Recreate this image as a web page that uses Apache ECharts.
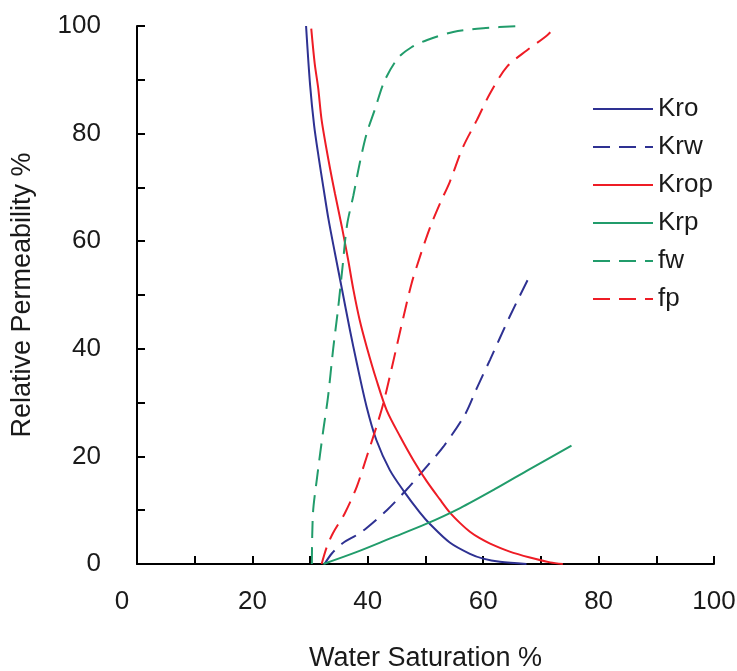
<!DOCTYPE html>
<html>
<head>
<meta charset="utf-8">
<script src="https://cdn.jsdelivr.net/npm/echarts@6/dist/echarts.min.js"></script>
<style>
  html, body { margin: 0; padding: 0; background: #fff; }
  #main { width: 737px; height: 671px; }
</style>
</head>
<body>
<div id="main"></div>
<script>
// curves (water saturation %, value %)
const kroX = [29.3, 30.0, 30.7, 31.5, 32.3, 33.2, 34.3, 35.5, 36.9, 38.1, 39.8, 41.5, 43.8, 46.2, 49.0, 50.8, 54.2, 57.7, 60.0, 62.9, 67.5];
const kroY = [100, 89, 81.5, 75.5, 70, 64, 57.8, 51.2, 43.5, 37.3, 29.2, 23, 17.5, 13.6, 9.6, 7.4, 4.0, 1.9, 1.0, 0.4, 0];

const krwX = [32.5, 33.8, 35.7, 38.1, 39.8, 43.3, 46.7, 50.2, 53.1, 56.8, 58.9, 61.2, 64.6, 67.8];
const krwY = [0, 2, 3.9, 5.4, 6.7, 10, 13.8, 18.1, 21.8, 27.7, 32.7, 38, 46, 53];

const kropX = [30.2, 30.8, 31.4, 32.0, 33.2, 34.3, 35.5, 36.6, 37.5, 38.6, 39.8, 41.5, 43.3, 45.6, 47.9, 50.2, 52.5, 54.2, 56.0, 57.7, 59.4, 61.2, 64.6, 68.1, 71.6, 73.8];
const kropY = [99.5, 93, 88.5, 82.5, 75, 68.9, 62.7, 56.5, 51, 45.3, 40.4, 34.2, 28.5, 23.7, 19.3, 15.4, 12.0, 9.6, 7.6, 6.0, 4.8, 3.8, 2.3, 1.2, 0.3, 0];

const krpX = [32.3, 38.0, 44.0, 50.0, 56.0, 62.0, 68.0, 75.3];
const krpY = [0, 2.2, 4.8, 7.4, 10.4, 13.9, 17.6, 22];

const fwX = [30.3, 30.5, 31.2, 32.3, 33.1, 34.0, 34.8, 35.6, 36.4, 37.5, 38.6, 39.8, 41.2, 42.9, 45.2, 47.5, 50.3, 54.8, 60.0, 66.4];
const fwY = [0, 9.5, 16, 25, 31, 40, 47, 55, 63, 68.5, 74.5, 80, 84.4, 89.8, 94, 96, 97.4, 98.9, 99.6, 100];

const fpX = [32.0, 32.9, 34.0, 36.0, 38.1, 39.8, 41.5, 42.7, 43.8, 45.0, 46.2, 47.6, 49.0, 50.8, 52.5, 54.2, 56.5, 58.9, 61.2, 64.1, 67.6, 71.1, 72.6];
const fpY = [0, 3.2, 5.8, 9.4, 14.4, 19.9, 25.5, 29.9, 34.8, 40.4, 46, 52.2, 57, 62.6, 67, 71, 77.5, 82.5, 87.5, 92.4, 95.5, 98.3, 100];

const seriesNames = ["Kro", "Krw", "Krop", "Krp", "fw", "fp"];

const BLUE = "#2e3192";
const RED = "#ee1c25";
const GREEN = "#219c6b";
const FONT = "Liberation Sans, Arial, sans-serif";

function pts(xs, ys) {
  return xs.map((x, i) => [x, ys[i]]);
}

function line(name, data, color, dashed) {
  return {
    name: name,
    type: "line",
    data: data,
    symbol: "none",
    smooth: 0.3,
    lineStyle: {
      color: color,
      width: 2,
      type: dashed ? [17, 9] : "solid",
    },
    itemStyle: { color: color },
  };
}

let myChart = echarts.init(document.getElementById("main"));
myChart.setOption({
  animation: false,
  textStyle: { fontFamily: FONT },
  grid: {
    left: 137,
    right: 23,
    top: 26,
    bottom: 107,
    outerBoundsMode: "none",
  },
  legend: {
    orient: "vertical",
    left: 592,
    top: 96,
    padding: 0,
    itemWidth: 60,
    itemHeight: 14,
    itemGap: 12,
    data: seriesNames,
    itemStyle: { opacity: 0 },
    textStyle: {
      fontFamily: FONT,
      fontSize: 26,
      lineHeight: 26,
      color: "#1a1a1a",
    },
  },
  xAxis: {
    type: "value",
    min: 0,
    max: 100,
    interval: 10,
    name: "Water Saturation %",
    nameLocation: "middle",
    nameGap: 81,
    nameTextStyle: { fontFamily: FONT, fontSize: 27, color: "#1a1a1a" },
    axisLine: { lineStyle: { color: "#000", width: 2 } },
    axisTick: { inside: true, length: 8, lineStyle: { color: "#000", width: 2 } },
    splitLine: { show: false },
    axisLabel: {
      margin: 25,
      fontFamily: FONT,
      fontSize: 26,
      color: "#1a1a1a",
      formatter: function (v) {
        if (v === 0) return "{z|0}";
        return v % 20 === 0 ? String(v) : "";
      },
      rich: {
        z: { fontFamily: FONT, fontSize: 26, color: "#1a1a1a", padding: [0, 30, 0, 0] },
      },
    },
  },
  yAxis: {
    type: "value",
    min: 0,
    max: 100,
    interval: 10,
    name: "Relative Permeability %",
    nameLocation: "middle",
    nameGap: 101,
    nameTextStyle: { fontFamily: FONT, fontSize: 27, color: "#1a1a1a" },
    axisLine: { show: true, lineStyle: { color: "#000", width: 2 } },
    axisTick: { show: true, inside: true, length: 8, lineStyle: { color: "#000", width: 2 } },
    splitLine: { show: false },
    axisLabel: {
      margin: 36,
      fontFamily: FONT,
      fontSize: 26,
      color: "#1a1a1a",
      formatter: function (v) {
        return v % 20 === 0 ? String(v) : "";
      },
    },
  },
  series: [
    line("Kro", pts(kroX, kroY), BLUE, false),
    line("Krw", pts(krwX, krwY), BLUE, true),
    line("Krop", pts(kropX, kropY), RED, false),
    line("Krp", pts(krpX, krpY), GREEN, false),
    line("fw", pts(fwX, fwY), GREEN, true),
    line("fp", pts(fpX, fpY), RED, true),
  ],
});
</script>
</body>
</html>
